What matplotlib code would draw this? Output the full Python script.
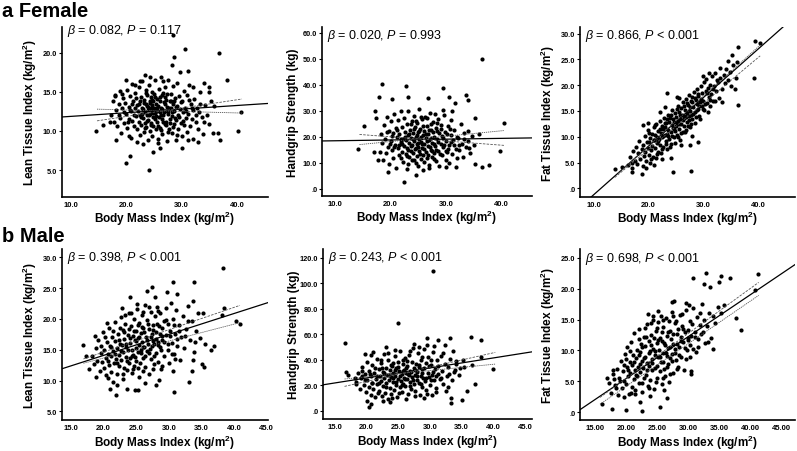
import numpy as np
import matplotlib
matplotlib.use("Agg")
import matplotlib.pyplot as plt

plt.rcParams['font.family'] = ['Liberation Sans', 'DejaVu Sans']
plt.rcParams['mathtext.fontset'] = 'custom'
plt.rcParams['mathtext.rm'] = 'Liberation Sans'
plt.rcParams['mathtext.it'] = 'Liberation Sans:italic'
plt.rcParams['mathtext.bf'] = 'Liberation Sans:bold'

# ---------------- data ----------------
female_lean_pts = [
    (28.4,22.3),(30.6,20.5),(36.8,20.0),(28.7,19.5),(28.2,18.5),(31.2,17.7),(29.7,17.6),(38.1,16.6),
    (19.9,16.6),(34.0,16.2),(35.0,15.6),(14.6,10.0),(15.8,10.8),(19.9,5.9),(20.7,6.8),(24.1,5.0),
    (24.8,7.3),(40.1,10.0),(40.8,12.4),(36.9,8.8),(36.6,9.8),(35.6,9.7),(30.0,7.8),(26.0,7.8),
    (18.1,8.8),(17.0,11.1),(17.9,14.5),(32.9,8.6),(34.0,11.1),(35.9,13.2),(34.9,15.0),(32.1,15.7),
    (17.2,12.1),(17.5,13.9),(17.8,11.2),(18.0,14.6),(18.2,12.7),(18.4,10.6),(18.6,13.4),(18.8,15.1),
    (18.9,11.7),(19.1,9.8),(19.3,12.9),(19.4,14.2),(19.6,11.0),(19.8,13.6),
    (20.0,12.2),(20.1,15.3),(20.2,10.4),(20.4,13.1),(20.5,11.6),(20.6,14.5),(20.8,9.1),(20.9,12.6),
    (21.0,16.0),(21.1,11.3),(21.2,13.8),(21.4,10.7),(21.5,12.9),(21.6,14.9),(21.8,11.9),(21.9,8.6),(21.9,13.3),
    (22.0,10.2),(22.1,12.5),(22.2,15.6),(22.3,11.1),(22.4,13.9),(22.5,9.5),(22.5,12.1),(22.6,14.3),
    (22.7,10.8),(22.8,13.0),(22.9,16.4),(23.0,11.7),(23.0,12.8),(23.1,9.9),(23.2,14.0),(23.3,12.4),
    (23.4,11.0),(23.5,15.2),(23.5,13.4),(23.6,10.5),(23.7,12.0),(23.8,14.6),(23.9,8.8),(23.9,13.1),(23.4,17.2),
    (24.0,11.4),(24.0,12.7),(24.1,15.9),(24.2,10.0),(24.2,13.6),(24.3,12.2),(24.4,14.4),(24.4,11.0),
    (24.5,13.0),(24.6,9.3),(24.6,12.5),(24.7,15.0),(24.8,11.8),(24.8,13.8),(24.9,10.6),(25.0,12.9),
    (25.0,14.8),(25.1,11.5),(25.2,16.6),(25.2,12.3),(25.3,10.2),(25.4,13.5),(25.5,11.2),(25.5,14.1),
    (25.6,12.6),(25.7,9.0),(25.8,13.2),(25.9,15.4),(25.9,11.8),
    (26.0,12.4),(26.1,10.4),(26.1,14.3),(26.2,13.0),(26.3,16.9),(26.4,11.5),(26.5,12.8),(26.5,9.6),
    (26.6,14.9),(26.7,12.0),(26.8,13.7),(26.9,10.9),(27.0,12.5),(27.0,15.6),(27.1,11.2),(27.2,14.0),
    (27.3,8.7),(27.4,13.1),(27.5,12.2),(27.6,16.5),(27.7,10.3),(27.8,13.8),(27.9,11.6),
    (28.0,12.9),(28.1,14.7),(28.2,9.8),(28.3,11.9),(28.4,13.5),(28.5,15.8),(28.6,10.9),(28.7,12.6),
    (28.8,14.2),(28.9,8.9),(29.0,11.4),(29.1,13.2),(29.2,16.2),(29.3,12.1),(29.4,10.2),(29.6,14.5),
    (29.7,12.8),(29.9,11.0),
    (30.0,13.9),(30.1,9.4),(30.2,12.4),(30.4,15.1),(30.5,10.8),(30.6,13.0),(30.8,11.7),(30.9,14.6),
    (31.0,9.9),(31.2,12.2),(31.3,15.9),(31.5,10.6),(31.6,13.4),(31.8,11.5),
    (32.0,12.7),(32.1,9.0),(32.3,14.1),(32.5,11.1),(32.7,13.0),(32.9,10.2),(33.1,12.4),(33.3,15.0),
    (33.6,11.8),(33.9,9.6),(34.2,13.3),(34.6,12.1),(34.9,10.9),(35.3,13.9),
    (22.2,13.4),(22.6,11.8),(23.1,13.6),(23.3,10.4),(23.6,14.9),(23.8,11.3),(24.1,12.1),(24.3,13.9),
    (24.5,10.8),(24.7,13.3),(24.9,12.3),(25.1,14.4),(25.3,11.9),(25.6,13.0),(25.8,10.6),(26.0,13.9),
    (26.2,12.1),(26.4,14.6),(26.6,11.1),(26.8,12.4),(27.0,13.4),(27.2,10.8),(27.4,14.8),(27.6,12.6),
    (27.8,11.0),(28.0,13.9),(28.2,12.4),(28.4,10.5),(28.6,13.8),(28.8,11.7),(21.0,13.5),(21.3,12.0),
    (21.7,14.2),(20.6,12.7),(20.3,11.1),(19.6,12.4),(19.2,14.8),(18.6,12.0),(22.9,12.2),(23.7,13.2),
    (24.6,14.0),(25.4,12.7),(26.3,10.1),(26.9,14.4),(27.7,12.9),(28.9,13.1),(29.5,11.8),(29.8,13.7),
    (30.3,11.3),(30.7,12.6),(31.4,14.0),(31.9,12.9),(32.6,12.0),(33.4,13.5),(22.4,16.4),(24.2,16.9),
    (26.7,16.4),(21.5,15.9),(25.8,8.4),(23.0,8.3),(29.1,9.5),(31.1,8.8),(27.5,9.9),(20.4,9.4),
]

female_grip_pts = [
    (36.4,50.1),(18.5,40.3),(22.8,39.4),(29.5,38.8),(18.0,35.4),(23.2,35.4),(26.7,35.1),(30.6,35.5),
    (33.5,36.2),(33.9,34.2),(31.6,32.9),(20.3,34.6),(15.3,24.1),(14.1,15.4),(17.0,14.1),(17.8,10.9),
    (19.6,6.4),(22.4,2.6),(24.5,5.1),(35.2,9.7),(36.5,8.3),(37.7,9.3),(39.7,14.4),(40.4,25.4),
    (35.2,27.4),(36.0,21.0),(34.2,15.7),(29.9,8.4),(31.7,8.3),(17.2,30.0),(17.3,27.4),(31.1,30.0),(29.4,30.3),
    (18.1,14.2),(18.3,21.0),(18.5,17.5),(18.7,11.0),(18.9,24.6),(19.0,19.2),(19.2,13.7),(19.4,27.8),
    (19.5,16.0),(19.7,22.1),(19.8,9.4),
    (20.0,18.4),(20.1,25.9),(20.2,14.8),(20.4,21.6),(20.5,11.9),(20.6,28.7),(20.8,17.0),(20.9,23.4),
    (21.0,8.1),(21.1,19.8),(21.3,15.5),(21.4,26.6),(21.5,12.8),(21.6,21.2),(21.8,17.9),(21.9,30.1),
    (22.0,14.1),(22.1,23.9),(22.2,19.0),(22.3,10.3),(22.4,16.4),(22.5,27.2),(22.6,21.7),(22.7,13.2),
    (22.8,18.6),(22.9,24.8),(23.0,7.6),(23.0,15.8),(23.1,20.5),(23.2,29.9),(23.3,12.2),(23.4,17.6),
    (23.5,22.8),(23.6,14.6),(23.7,19.5),(23.8,26.0),(23.9,10.9),(23.9,16.9),
    (24.0,21.3),(24.1,13.9),(24.2,18.2),(24.3,28.1),(24.4,15.2),(24.4,23.6),(24.5,9.8),(24.6,19.9),
    (24.7,17.1),(24.8,25.3),(24.8,12.6),(24.9,21.8),(25.0,16.1),(25.1,30.9),(25.1,19.3),(25.2,14.4),
    (25.3,23.0),(25.4,11.4),(25.5,18.0),(25.6,26.7),(25.7,15.6),(25.8,20.7),(25.9,13.0),(25.9,7.2),
    (26.0,22.4),(26.1,17.4),(26.2,27.5),(26.3,14.0),(26.4,19.6),(26.5,11.7),(26.6,24.2),(26.7,16.6),
    (26.8,20.9),(26.9,9.0),(27.0,18.8),(27.1,29.3),(27.2,15.0),(27.3,22.6),(27.4,12.4),(27.5,17.8),
    (27.6,25.6),(27.8,20.1),(27.9,13.6),
    (28.0,16.3),(28.1,23.3),(28.2,10.6),(28.3,19.1),(28.5,27.0),(28.6,14.7),(28.7,21.4),(28.8,8.8),
    (29.0,17.3),(29.1,24.5),(29.2,12.9),(29.4,19.7),(29.5,15.9),(29.7,28.4),(29.8,21.9),(29.9,11.2),
    (30.0,18.5),(30.2,14.3),(30.3,24.0),(30.5,16.8),(30.6,10.0),(30.8,20.6),(30.9,26.3),(31.1,13.5),
    (31.3,18.9),(31.5,22.7),(31.7,15.3),(31.9,11.8),
    (32.1,19.4),(32.3,14.9),(32.6,25.0),(32.8,17.2),(33.0,12.1),(33.3,21.5),(33.6,16.2),(33.9,18.3),
    (34.3,13.8),(34.7,20.2),(35.1,17.0),
    (22.1,17.2),(22.6,20.1),(23.1,15.1),(23.4,21.0),(23.7,16.3),(24.0,19.0),(24.2,23.0),(24.5,15.8),
    (24.7,20.6),(24.9,17.8),(25.1,22.3),(25.3,13.4),(25.5,20.1),(25.7,17.2),(25.9,24.0),(26.1,15.3),
    (26.3,21.2),(26.5,18.2),(26.7,13.0),(26.9,22.8),(27.1,16.2),(27.3,19.6),(27.5,14.4),(27.7,21.9),
    (27.9,17.4),(28.2,15.0),(28.4,22.2),(28.6,18.0),(28.9,13.3),(29.2,20.3),(29.6,17.0),(30.1,21.2),
    (30.4,15.4),(30.9,18.0),(31.4,16.7),(21.2,22.8),(21.5,16.9),(21.8,19.3),(20.7,15.9),(20.3,20.3),
    (19.9,17.1),(19.3,21.7),(22.9,12.6),(23.6,25.1),(24.3,11.0),(24.6,26.2),(25.4,27.6),(26.0,10.3),
    (26.6,27.4),(27.2,25.0),(27.8,11.6),(28.3,25.4),(29.0,23.1),(29.9,14.4),(30.7,22.9),(31.9,20.1),
    (32.4,16.8),(33.2,19.0),(34.0,22.2),(21.9,11.7),(23.2,9.4),(25.0,8.6),(27.0,7.8),(28.0,28.8),
]

female_fat_pts = [
    (39.5,28.6),(40.4,28.1),(36.4,27.5),(35.2,25.8),(34.6,24.7),(39.3,21.4),(35.8,19.3),(36.4,16.1),
    (23.4,18.4),(25.1,17.8),(19.0,12.3),(19.9,12.7),(24.5,3.1),(27.7,3.4),(13.8,3.7),(15.1,4.1),
    (16.9,3.1),(18.7,2.8),(16.9,5.0),(27.6,8.4),(29.1,8.9),(33.4,16.8),(31.2,16.0),
    (16.2,4.6),(16.6,6.1),(17.0,3.9),(17.2,7.3),(17.5,5.2),(17.7,8.1),(17.9,4.8),(18.1,6.8),
    (18.3,9.2),(18.5,5.7),(18.8,7.6),(18.9,4.3),
    (19.0,8.4),(19.1,6.2),(19.3,10.1),(19.4,7.1),(19.6,5.3),(19.7,9.0),(19.8,7.8),(19.9,11.3),
    (20.0,6.5),(20.1,8.9),(20.2,4.9),(20.3,9.8),(20.4,7.4),(20.6,10.6),(20.7,8.2),(20.8,6.0),(20.9,11.8),
    (21.0,9.3),(21.1,7.9),(21.2,10.4),(21.3,5.8),(21.4,12.5),(21.5,8.7),(21.6,10.0),(21.7,7.0),
    (21.8,11.2),(21.9,9.6),(22.0,13.0),(22.1,8.4),(22.2,10.8),(22.3,6.9),(22.4,12.0),(22.5,9.9),
    (22.6,11.5),(22.7,8.0),(22.8,13.6),(22.9,10.3),
    (23.0,11.9),(23.1,9.1),(23.2,12.7),(23.3,7.7),(23.4,10.6),(23.5,14.2),(23.6,11.4),(23.7,9.6),
    (23.8,12.9),(23.9,13.7),(24.0,10.9),(24.1,8.6),(24.2,12.3),(24.3,15.1),(24.4,11.7),(24.5,13.4),
    (24.6,9.9),(24.7,12.8),(24.8,14.6),(24.9,11.1),
    (25.0,13.9),(25.1,10.4),(25.2,12.6),(25.3,16.0),(25.4,13.1),(25.5,11.5),(25.6,14.8),(25.7,9.4),
    (25.8,13.5),(25.9,15.5),(26.0,12.4),(26.1,14.3),(26.2,10.9),(26.3,16.8),(26.4,13.7),(26.5,12.0),
    (26.6,15.2),(26.7,14.0),(26.8,11.3),(26.9,17.4),
    (27.0,14.6),(27.1,12.8),(27.2,16.1),(27.3,13.3),(27.4,18.2),(27.5,15.0),(27.6,11.9),(27.7,16.9),
    (27.8,14.2),(27.9,17.7),(28.0,13.4),(28.1,15.8),(28.3,18.6),(28.4,14.9),(28.5,12.6),(28.6,17.1),
    (28.8,16.3),(28.9,19.2),
    (29.0,15.4),(29.1,17.9),(29.3,14.1),(29.4,16.7),(29.5,19.8),(29.7,15.9),(29.8,18.4),(30.0,17.0),
    (30.1,20.6),(30.2,15.1),(30.4,18.9),(30.5,21.3),(30.7,16.5),(30.8,19.5),
    (31.0,17.8),(31.2,20.1),(31.4,18.3),(31.6,21.8),(31.8,16.9),(32.0,19.9),(32.2,22.4),(32.4,18.8),
    (32.7,20.7),(32.9,17.5),(33.1,21.5),(33.4,19.3),(33.7,22.0),
    (34.0,20.4),(34.2,23.2),(34.5,21.1),(34.8,22.6),(35.1,19.8),(35.5,23.9),(35.9,21.5),(36.2,24.6),
    (20.5,5.6),(20.9,9.4),(21.2,12.3),(21.5,6.6),(21.8,9.1),(22.1,11.6),(22.4,7.7),(22.7,10.1),
    (22.9,12.6),(23.2,8.6),(23.4,13.5),(23.6,10.2),(23.9,8.0),(24.1,14.2),(24.3,10.1),(24.6,11.5),
    (24.8,8.8),(25.0,12.0),(25.2,15.3),(25.4,9.9),(25.6,12.4),(25.8,14.2),(26.0,10.7),(26.2,13.2),
    (26.4,15.9),(26.6,11.0),(26.8,13.9),(27.0,16.5),(27.2,12.1),(27.4,14.0),(27.6,15.7),(27.8,12.5),
    (28.0,16.8),(28.2,14.4),(28.4,17.5),(28.6,13.9),(28.8,15.2),(29.0,18.3),(29.2,16.0),(29.4,13.5),
    (29.6,17.3),(29.9,15.4),(30.3,16.3),(30.6,18.5),(30.9,14.9),(31.3,17.2),(31.7,19.3),(32.1,17.0),
    (32.5,21.0),(23.0,15.7),(24.0,5.9),(22.0,14.9),(26.0,8.4),(28.0,10.2),(20.0,10.8),(19.5,3.9),
    (21.0,4.5),(30.0,21.8),(31.0,22.4),(33.0,23.4),(22.5,5.6),(25.5,17.6),
]

male_lean_pts = [
    (38.3,28.3),(30.7,26.0),(33.9,26.0),(27.4,25.2),(31.2,24.1),(33.7,22.9),(27.9,23.6),(16.9,15.8),
    (17.3,13.9),(17.7,11.8),(18.7,17.3),(18.8,10.5),(20.5,19.4),(20.7,10.4),(21.0,8.6),(21.9,7.7),
    (24.8,8.5),(25.2,8.5),(28.1,9.2),(30.8,8.2),(33.1,9.7),(33.5,11.6),(35.1,12.7),(35.4,12.2),
    (35.6,15.9),(36.4,14.9),(36.9,15.6),(35.3,20.9),(38.1,20.7),(40.3,19.7),(40.9,19.2),(38.5,21.7),(33.7,13.4),
    (18.2,14.0),(18.5,12.6),(18.8,15.3),(19.0,13.2),(19.2,16.5),(19.4,11.6),(19.6,14.4),(19.8,13.0),(19.9,17.8),
    (20.0,12.1),(20.1,15.0),(20.3,13.7),(20.4,10.9),(20.5,16.2),(20.7,14.3),(20.8,12.5),(20.9,18.6),
    (21.0,15.6),(21.1,11.4),(21.2,13.9),(21.3,17.1),(21.4,9.8),(21.5,14.8),(21.6,12.9),(21.7,16.4),
    (21.8,19.5),(21.9,13.5),
    (22.0,15.2),(22.1,11.0),(22.2,17.6),(22.3,14.1),(22.4,12.3),(22.5,16.0),(22.6,20.3),(22.7,13.3),
    (22.8,15.7),(22.9,10.3),(23.0,18.2),(23.0,14.6),(23.1,12.0),(23.2,16.8),(23.3,19.1),(23.4,13.8),
    (23.5,15.4),(23.6,11.7),(23.7,17.4),(23.8,14.9),(23.9,21.0),(23.9,12.8),
    (24.0,16.1),(24.1,13.6),(24.2,18.8),(24.3,15.0),(24.4,11.3),(24.5,17.3),(24.5,14.2),(24.6,20.0),
    (24.7,12.4),(24.8,16.6),(24.9,15.3),(25.0,18.0),(25.0,13.1),(25.1,21.6),(25.2,14.7),(25.3,16.9),
    (25.4,10.6),(25.5,19.3),(25.5,15.8),(25.6,12.9),(25.7,17.7),(25.8,14.4),(25.9,20.6),(25.9,16.3),
    (26.0,13.7),(26.1,18.5),(26.2,15.5),(26.3,22.3),(26.4,12.2),(26.5,17.0),(26.6,14.8),(26.7,19.8),
    (26.8,16.0),(26.9,11.1),(27.0,18.3),(27.1,15.1),(27.2,21.2),(27.3,13.5),(27.4,17.5),(27.5,16.4),
    (27.6,19.0),(27.7,12.7),(27.8,15.9),(27.9,20.4),
    (28.0,14.5),(28.1,17.9),(28.2,22.0),(28.3,16.2),(28.4,13.0),(28.5,18.9),(28.6,15.4),(28.7,20.9),
    (28.8,11.8),(28.9,17.2),(29.0,16.6),(29.2,19.6),(29.3,14.0),(29.5,21.8),(29.6,17.4),(29.8,15.0),(29.9,19.2),
    (30.0,12.9),(30.2,18.1),(30.3,22.6),(30.5,16.1),(30.6,20.0),(30.8,14.3),(30.9,17.6),(31.1,21.4),
    (31.3,15.6),(31.5,19.0),(31.7,13.4),(31.9,17.0),
    (32.1,20.5),(32.3,15.2),(32.6,18.4),(32.9,22.1),(33.2,16.6),(33.5,19.7),(33.8,14.6),(34.1,18.1),
    (34.5,21.0),(34.8,16.9),
    (22.3,16.6),(22.7,14.8),(23.1,17.8),(23.4,15.9),(23.6,13.2),(23.9,18.3),(24.1,16.9),(24.3,14.0),
    (24.6,18.0),(24.8,13.8),(25.0,16.4),(25.2,19.0),(25.3,12.1),(25.5,17.0),(25.7,14.9),(25.9,18.7),
    (26.0,15.4),(26.2,17.8),(26.4,13.9),(26.6,16.6),(26.8,19.2),(27.0,14.4),(27.2,17.0),(27.4,15.6),
    (27.6,18.2),(27.8,13.9),(28.0,16.8),(28.2,19.1),(28.4,15.8),(28.6,17.6),(28.8,14.9),(29.0,18.6),
    (29.3,16.3),(29.6,19.9),(29.9,15.9),(30.2,17.2),(30.5,14.3),(30.8,19.0),(31.2,16.8),(31.6,18.1),
    (21.2,15.5),(21.5,18.0),(21.8,14.3),(20.6,13.2),(20.2,17.0),(19.6,15.6),(22.0,12.8),(22.5,18.6),
    (23.3,20.6),(24.2,21.0),(25.1,22.4),(26.1,21.1),(27.0,22.0),(28.4,21.3),(24.5,11.9),(26.0,11.6),
    (27.5,11.9),(23.0,11.1),(29.0,12.4),(30.6,11.5),(22.0,9.3),(23.6,8.6),(26.4,9.6),(28.5,10.1),
    (32.5,17.3),(33.0,19.6),(31.0,13.5),(34.0,16.2),(26.7,24.5),(29.7,24.4),(24.0,23.5),(22.8,21.8),
]

male_grip_pts = [
    (30.5,109.4),(24.9,69.1),(16.5,52.9),(36.4,57.6),(38.0,55.2),(40.0,32.7),(37.1,20.9),(35.8,15.7),
    (35.0,8.4),(33.3,9.9),(33.3,6.3),(32.8,18.8),(20.7,5.2),(20.4,2.6),(20.1,7.9),(18.3,20.9),
    (16.8,30.1),(17.1,28.3),(18.1,25.7),(19.2,27.5),(19.7,44.5),(20.7,44.0),(29.5,56.8),(31.2,55.2),
    (33.2,56.8),(32.4,51.8),(34.1,38.7),(35.4,34.0),(38.1,41.9),(30.3,12.6),(29.5,13.1),
    (18.3,22.4),(18.6,30.0),(18.9,17.2),(19.1,26.0),(19.3,34.5),(19.5,20.1),(19.7,28.6),(19.9,14.8),
    (20.0,24.3),(20.1,38.0),(20.3,19.0),(20.4,31.2),(20.6,12.3),(20.7,26.9),(20.8,22.0),(20.9,35.6),
    (21.0,17.4),(21.2,29.4),(21.3,10.5),(21.4,24.8),(21.6,40.6),(21.7,20.6),(21.9,32.8),
    (22.0,15.7),(22.1,27.5),(22.2,23.1),(22.3,37.1),(22.4,11.6),(22.5,30.5),(22.6,19.6),(22.7,44.8),
    (22.8,25.7),(22.9,14.1),(23.0,33.9),(23.1,21.5),(23.2,28.2),(23.3,8.9),(23.4,39.5),(23.5,24.0),
    (23.6,17.8),(23.7,31.8),(23.8,26.4),(23.9,12.9),
    (24.0,35.2),(24.1,22.7),(24.2,29.7),(24.3,16.5),(24.4,42.9),(24.5,27.1),(24.6,20.3),(24.7,33.3),
    (24.8,11.0),(24.9,25.2),(25.0,38.6),(25.1,30.9),(25.2,18.7),(25.3,46.8),(25.4,23.6),(25.5,28.9),
    (25.6,14.5),(25.7,36.4),(25.8,21.0),(25.9,32.2),(25.9,26.0),
    (26.0,41.5),(26.1,19.3),(26.2,29.9),(26.3,24.6),(26.4,35.0),(26.5,13.2),(26.6,27.8),(26.7,44.0),
    (26.8,22.3),(26.9,31.4),(27.0,17.0),(27.1,38.2),(27.2,26.2),(27.3,49.6),(27.4,20.8),(27.5,33.6),
    (27.6,28.4),(27.7,15.3),(27.8,36.9),(27.9,24.2),
    (28.0,30.3),(28.1,45.5),(28.2,21.9),(28.3,34.1),(28.4,12.0),(28.5,27.4),(28.6,40.2),(28.7,18.3),
    (28.8,32.6),(28.9,25.5),(29.0,48.5),(29.2,23.2),(29.3,37.5),(29.4,16.1),(29.6,30.0),(29.7,42.4),(29.9,26.7),
    (30.0,20.0),(30.2,35.8),(30.3,28.0),(30.5,46.0),(30.6,23.8),(30.8,33.0),(30.9,17.6),(31.1,39.6),
    (31.3,29.2),(31.5,24.9),(31.7,43.3),(31.9,31.0),
    (32.1,21.2),(32.3,37.0),(32.6,27.3),(32.9,34.3),(33.2,40.9),(33.5,24.4),(33.8,30.6),(34.1,36.3),
    (34.5,27.9),(34.8,33.7),
    (21.6,27.0),(22.0,21.4),(22.4,33.2),(22.8,29.6),(23.1,18.6),(23.5,27.9),(23.8,35.8),(24.1,25.8),
    (24.4,31.6),(24.7,22.9),(25.0,34.3),(25.2,27.2),(25.5,20.4),(25.7,31.3),(26.0,24.8),(26.2,33.8),
    (26.5,28.5),(26.8,19.3),(27.0,30.2),(27.3,23.9),(27.6,32.1),(27.9,27.6),(28.2,36.1),(28.5,21.1),
    (28.8,29.4),(29.1,33.6),(29.4,26.0),(29.8,34.8),(30.1,24.3),(30.5,30.4),(30.9,27.2),(31.3,34.9),
    (31.8,25.8),(20.5,29.0),(20.9,21.4),(21.3,33.7),(19.8,24.0),(19.2,31.0),(22.2,40.2),(23.3,45.5),
    (24.5,47.7),(25.8,40.2),(26.9,46.6),(28.3,49.9),(29.5,51.5),(30.7,50.5),(27.5,52.5),(25.1,14.0),
    (24.0,10.2),(26.2,9.5),(27.6,11.5),(29.0,10.0),(22.5,7.9),(23.7,6.5),(21.8,14.0),(31.0,14.6),
    (32.5,15.8),(33.0,29.0),(34.0,31.8),(32.0,45.0),(33.7,47.0),(35.2,40.2),(36.6,36.0),(26.3,38.9),
    (24.2,37.5),(28.7,41.9),(30.2,40.0),(21.0,45.8),(23.0,50.3),
]

male_fat_pts = [
    (41.2,22.4),(32.9,22.5),(35.3,22.1),(36.7,21.7),(30.8,21.7),(34.9,21.0),(32.5,20.8),(33.5,20.2),
    (40.7,19.7),(38.5,13.3),(37.6,15.2),(33.9,10.2),(16.1,1.3),(17.8,0.6),(20.0,0.4),(22.5,0.2),
    (22.3,1.6),(25.4,0.9),(26.6,2.3),(19.6,2.5),(20.8,3.1),(18.4,4.0),(17.0,5.6),(17.9,6.9),
    (27.7,18.0),(29.6,17.6),(27.6,15.6),(24.4,15.6),(25.6,15.6),(30.5,6.2),(30.4,6.7),
    (17.3,4.8),(17.6,3.1),(17.9,6.2),(18.2,4.4),(18.5,7.0),(18.7,2.8),(18.9,5.6),(19.1,8.3),
    (19.3,3.9),(19.5,6.7),(19.7,5.0),(19.9,9.5),
    (20.0,4.6),(20.1,7.3),(20.2,10.6),(20.3,5.8),(20.5,2.9),(20.6,8.1),(20.7,6.4),(20.8,11.3),
    (20.9,4.1),(21.0,7.7),(21.1,9.2),(21.2,5.3),(21.3,12.8),(21.4,6.9),(21.5,3.6),(21.6,8.8),
    (21.7,10.1),(21.8,5.9),(21.9,7.4),
    (22.0,13.4),(22.1,4.8),(22.2,9.7),(22.3,6.5),(22.4,11.0),(22.5,8.3),(22.6,3.2),(22.7,7.1),
    (22.8,12.1),(22.9,5.6),(23.0,9.0),(23.1,10.7),(23.2,6.1),(23.3,14.3),(23.4,8.0),(23.5,4.3),
    (23.6,11.6),(23.7,7.5),(23.8,9.9),(23.9,5.2),
    (24.0,12.5),(24.1,8.6),(24.2,6.8),(24.3,15.0),(24.4,10.3),(24.5,3.7),(24.6,9.3),(24.7,7.2),
    (24.8,13.1),(24.9,11.2),(25.0,5.5),(25.1,8.9),(25.2,14.6),(25.3,10.0),(25.4,6.6),(25.5,12.0),
    (25.6,8.2),(25.7,4.5),(25.8,11.5),(25.9,9.6),
    (26.0,13.8),(26.1,7.0),(26.2,10.8),(26.3,5.9),(26.4,15.3),(26.5,9.1),(26.6,12.4),(26.7,7.8),
    (26.8,10.4),(26.9,4.9),(27.0,13.2),(27.1,8.7),(27.2,11.8),(27.3,16.2),(27.4,9.4),(27.5,6.3),
    (27.6,12.7),(27.8,10.2),(27.9,14.4),
    (28.0,8.4),(28.1,11.1),(28.3,13.5),(28.4,7.4),(28.5,10.6),(28.7,15.7),(28.8,12.2),(28.9,9.0),
    (29.0,14.0),(29.2,11.4),(29.3,6.9),(29.5,12.9),(29.6,16.5),(29.8,10.0),(29.9,13.3),
    (30.0,11.7),(30.2,8.9),(30.3,14.8),(30.5,12.4),(30.7,10.3),(30.8,16.9),(31.0,13.0),(31.2,9.7),
    (31.4,15.4),(31.6,11.9),(31.8,14.1),
    (32.0,12.6),(32.2,17.5),(32.5,15.0),(32.7,11.2),(33.0,13.9),(33.3,16.0),(33.6,12.0),(34.0,15.6),
    (34.3,14.4),(34.7,17.0),(35.2,16.1),(35.8,17.4),
    (21.2,8.2),(21.6,6.0),(22.0,9.3),(22.3,7.8),(22.6,10.5),(22.9,8.7),(23.2,12.2),(23.4,6.8),
    (23.7,9.6),(24.0,10.9),(24.2,7.9),(24.5,12.0),(24.7,9.9),(25.0,7.5),(25.2,11.7),(25.4,9.0),
    (25.7,13.0),(25.9,8.1),(26.1,11.2),(26.4,9.6),(26.6,7.4),(26.8,12.9),(27.1,10.6),(27.3,8.3),
    (27.6,11.1),(27.9,9.6),(28.2,12.7),(28.5,9.2),(28.8,11.5),(29.2,13.4),(29.5,10.4),(29.9,12.0),
    (30.3,10.9),(30.6,14.2),(31.1,12.2),(31.5,10.5),(20.3,6.8),(20.7,9.9),(20.0,8.6),(19.6,7.6),
    (19.0,5.0),(18.0,5.3),(22.1,11.8),(23.0,13.7),(24.0,14.4),(25.0,13.6),(26.0,15.0),(26.9,14.8),
    (28.0,14.8),(29.0,15.9),(22.6,4.8),(23.7,3.9),(24.8,4.9),(25.9,5.6),(27.0,6.2),(28.2,7.0),
    (29.6,8.6),(23.9,2.6),(26.1,3.6),(21.4,3.0),(32.4,13.0),(33.1,11.4),(31.9,16.0),(30.1,17.4),
    (27.3,17.8),(25.1,16.4),(23.5,15.9),
]

# regression line: (intercept, slope)
fit_params = {
    'female_lean': (11.41, 0.0465),
    'female_grip': (18.16, 0.031),
    'female_fat': (-10.6, 0.94),
    'male_lean': (7.28, 0.34),
    'male_grip': (10.04, 0.785),
    'male_fat': (-8.13, 0.679),
}
# confidence lines: x0, x1, y0, y1
ci_lines = {
    'female_lean': [(14.7, 40.9, 11.3, 14.1), (14.7, 40.9, 12.8, 12.3)],
    'female_grip': [(14.4, 40.4, 20.9, 16.7), (14.4, 40.4, 17.0, 22.4)],
    'female_fat': [(13.8, 40.4, 2.1, 25.7), (14.5, 40.4, 3.0, 27.8)],
    'male_lean': [(16.9, 40.9, 13.5, 22.2), (16.9, 40.9, 12.8, 19.4)],
    'male_grip': [(16.5, 40.3, 19.1, 45.8), (16.5, 40.3, 24.9, 36.6)],
    'male_fat': [(15.8, 41.3, 2.4, 21.0), (15.8, 41.3, 1.3, 18.9)],
}
stat_texts = {
    'female_lean': ('0.082', '= 0.117'),
    'female_grip': ('0.020', '= 0.993'),
    'female_fat': ('0.866', '< 0.001'),
    'male_lean': ('0.398', '< 0.001'),
    'male_grip': ('0.243', '< 0.001'),
    'male_fat': ('0.698', '< 0.001'),
}
y_titles = {
    'female_lean': 'Lean Tissue Index (kg/m$^{\\mathbf{2}}$)',
    'female_grip': 'Handgrip Strength (kg)',
    'female_fat': 'Fat Tissue Index (kg/m$^{\\mathbf{2}}$)',
    'male_lean': 'Lean Tissue Index (kg/m$^{\\mathbf{2}}$)',
    'male_grip': 'Handgrip Strength (kg)',
    'male_fat': 'Fat Tissue Index (kg/m$^{\\mathbf{2}}$)',
}
x_title = 'Body Mass Index (kg/m$^{\\mathbf{2}}$)'

xticks_f = [10, 20, 30, 40]
xticks_m = [15, 20, 25, 30, 35, 40, 45]
yticks = {
    'female_lean': [5, 10, 15, 20],
    'female_grip': [0, 10, 20, 30, 40, 50, 60],
    'female_fat': [0, 5, 10, 15, 20, 25, 30],
    'male_lean': [5, 10, 15, 20, 25, 30],
    'male_grip': [0, 20, 40, 60, 80, 100, 120],
    'male_fat': [0, 5, 10, 15, 20, 25],
}
xlims = {
    'female_lean': (8.37, 45.6), 'female_grip': (7.66, 45.45), 'female_fat': (7.44, 46.77),
    'male_lean': (13.62, 45.2), 'male_grip': (13.1, 46.1), 'male_fat': (12.59, 47.14),
}
ylims = {
    'female_lean': (1.54, 23.33), 'female_grip': (-2.81, 62.3), 'female_fat': (-1.69, 31.3),
    'male_lean': (3.59, 31.35), 'male_grip': (-6.52, 127.0), 'male_fat': (-1.25, 26.4),
}

# ---------------- drawing ----------------
fig = plt.figure(figsize=(7.97, 4.52), dpi=100)

W, H = 797.0, 452.0
boxes = {
    'female_lean': (62, 28, 268, 198), 'female_grip': (322, 28, 532, 197), 'female_fat': (580, 28, 795, 198),
    'male_lean': (62, 250, 268, 421), 'male_grip': (323, 250, 532, 420), 'male_fat': (580, 250, 795, 421),
}
text_y = {'female_lean': 0.984, 'female_grip': 0.953, 'female_fat': 0.953,
          'male_lean': 0.951, 'male_grip': 0.951, 'male_fat': 0.946}
pts_map = {'female_lean': female_lean_pts, 'female_grip': female_grip_pts, 'female_fat': female_fat_pts,
           'male_lean': male_lean_pts, 'male_grip': male_grip_pts, 'male_fat': male_fat_pts}

def fmt_tick(v, dec=1):
    s = f"{v:.{dec}f}"
    if v == 0:
        s = s[1:]
    return s

for key, (l, t, r, b) in boxes.items():
    ax = fig.add_axes([l / W, 1 - b / H, (r - l) / W, (b - t) / H])
    pts = np.array(pts_map[key])
    ax.scatter(pts[:, 0], pts[:, 1], s=9, c='black', linewidths=0, zorder=3)
    a, m = fit_params[key]
    ax.axline((0, a), slope=m, color='black', lw=0.9, zorder=4)
    for j, (x0, x1, y0, y1) in enumerate(ci_lines[key]):
        ax.plot([x0, x1], [y0, y1], color='#555555', lw=0.6,
                ls=(0, (3, 1.5)) if j == 0 else (0, (1.5, 1)), zorder=4)
    ax.set_xlim(*xlims[key])
    ax.set_ylim(*ylims[key])
    is_male = key.startswith('male')
    xt = xticks_m if is_male else xticks_f
    ax.set_xticks(xt)
    dec = 2 if key == 'male_fat' else 1
    ax.set_xticklabels([fmt_tick(v, dec) for v in xt], fontsize=5.5, fontweight='bold')
    ax.set_yticks(yticks[key])
    ax.set_yticklabels([fmt_tick(v) for v in yticks[key]], fontsize=5.3, fontweight='bold')
    ax.tick_params(axis='x', length=0, pad=3)
    ax.tick_params(axis='y', length=2.5, width=0.8, pad=1)
    for s in ['top', 'right']:
        ax.spines[s].set_visible(False)
    for s in ['left', 'bottom']:
        ax.spines[s].set_linewidth(1.2)
    ax.set_xlabel(x_title, fontsize=8.5, fontweight='bold')
    ax.xaxis.set_label_coords(0.5, -0.074 if is_male else -0.07)
    ax.set_ylabel(y_titles[key], fontsize=8.5, fontweight='bold')
    ax.yaxis.set_label_coords(-23.0 / (r - l), 0.5)
    beta, pv = stat_texts[key]
    ax.text(0.025, text_y[key], r'$\beta$ = ' + beta + ', $P$ ' + pv,
            transform=ax.transAxes, fontsize=9, va='center', ha='left')

fig.text(0.002, 1 - 17.3 / H, 'a Female', fontsize=14.5, fontweight='bold', va='baseline', ha='left')
fig.text(0.002, 1 - 242.3 / H, 'b Male', fontsize=14.5, fontweight='bold', va='baseline', ha='left')

fig.savefig('out.png', dpi=100, facecolor='white')
